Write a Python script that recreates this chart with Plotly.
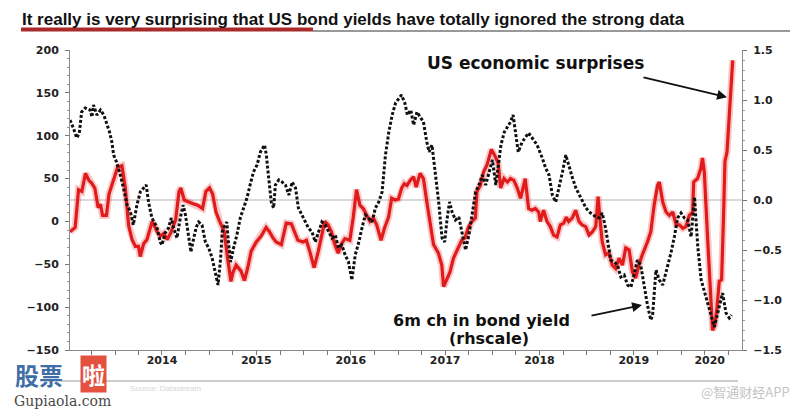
import plotly.graph_objects as go
import pandas as pd

# ---------------- data ----------------
title_text = "It really is very surprising that US bond yields have totally ignored the strong data"
surprise_label = "US economic surprises"
bond_label_1 = "6m ch in bond yield"
bond_label_2 = "(rhscale)"

year_labels = ["2014", "2015", "2016", "2017", "2018", "2019", "2020"]
year_label_dates = ["2014-07-01", "2015-07-01", "2016-07-01", "2017-07-01",
                    "2018-07-01", "2019-07-01", "2020-04-20"]

# US economic surprise index (left scale)
surprise_dates = [
    "2013-07-10", "2013-07-30", "2013-08-12", "2013-08-25", "2013-09-08", "2013-09-21",
    "2013-10-01", "2013-10-14", "2013-10-27", "2013-11-05", "2013-11-13", "2013-11-28",
    "2013-12-08", "2013-12-24", "2014-01-10", "2014-01-27", "2014-02-09", "2014-02-22",
    "2014-03-07", "2014-03-20", "2014-04-01", "2014-04-08", "2014-04-21", "2014-05-04",
    "2014-05-24", "2014-06-12", "2014-06-25", "2014-07-08", "2014-07-21", "2014-08-03",
    "2014-08-23", "2014-09-05", "2014-09-12", "2014-09-25", "2014-10-08", "2014-10-27",
    "2014-11-16", "2014-12-05", "2014-12-18", "2015-01-01", "2015-01-13", "2015-01-26",
    "2015-02-08", "2015-02-27", "2015-03-12", "2015-03-25", "2015-04-01", "2015-04-14",
    "2015-05-03", "2015-05-16", "2015-05-29", "2015-06-11", "2015-07-01", "2015-07-20",
    "2015-08-08", "2015-08-21", "2015-09-03", "2015-09-16", "2015-10-06", "2015-10-19",
    "2015-10-25", "2015-11-14", "2015-11-27", "2015-12-09", "2015-12-29", "2016-01-11",
    "2016-01-24", "2016-02-10", "2016-02-26", "2016-03-09", "2016-03-22", "2016-04-04",
    "2016-04-17", "2016-04-30", "2016-05-13", "2016-05-26", "2016-06-08", "2016-06-27",
    "2016-07-10", "2016-07-23", "2016-08-05", "2016-08-18", "2016-08-31", "2016-09-13",
    "2016-09-26", "2016-10-09", "2016-10-26", "2016-11-08", "2016-11-24", "2016-12-06",
    "2016-12-19", "2017-01-01", "2017-01-14", "2017-01-24", "2017-02-03", "2017-02-16",
    "2017-03-01", "2017-03-11", "2017-03-26", "2017-04-08", "2017-04-21", "2017-05-04",
    "2017-05-17", "2017-06-05", "2017-06-18", "2017-06-25", "2017-07-07", "2017-07-20",
    "2017-08-02", "2017-08-15", "2017-09-03", "2017-09-16", "2017-09-30", "2017-10-13",
    "2017-10-26", "2017-11-01", "2017-11-14", "2017-11-27", "2017-12-10", "2017-12-27",
    "2018-01-09", "2018-01-22", "2018-02-01", "2018-02-14", "2018-02-27", "2018-03-11",
    "2018-03-24", "2018-04-06", "2018-04-19", "2018-05-07", "2018-05-20", "2018-06-02",
    "2018-06-15", "2018-06-28", "2018-07-04", "2018-07-17", "2018-07-30", "2018-08-12",
    "2018-08-25", "2018-09-07", "2018-09-20", "2018-10-03", "2018-10-13", "2018-10-22",
    "2018-11-05", "2018-11-18", "2018-12-01", "2018-12-13", "2018-12-27", "2019-01-09",
    "2019-01-22", "2019-02-04", "2019-02-13", "2019-02-21", "2019-03-01", "2019-03-14",
    "2019-03-27", "2019-04-09", "2019-04-22", "2019-05-05", "2019-05-18", "2019-05-31",
    "2019-06-13", "2019-06-26", "2019-07-08", "2019-07-21", "2019-08-03", "2019-08-23",
    "2019-09-05", "2019-09-18", "2019-10-01", "2019-10-08", "2019-10-21", "2019-11-03",
    "2019-11-16", "2019-11-29", "2019-12-12", "2019-12-25", "2020-01-07", "2020-01-19",
    "2020-02-01", "2020-02-14", "2020-02-18", "2020-03-04", "2020-03-17", "2020-03-23",
    "2020-03-30", "2020-04-12", "2020-04-22", "2020-05-01", "2020-05-10", "2020-05-18",
    "2020-05-27", "2020-06-05", "2020-06-13", "2020-06-18", "2020-06-26", "2020-07-05",
    "2020-07-11", "2020-07-18",
]
surprise_values = [
    -12, -7, 37, 35, 56, 48,
    45, 39, 16, 20, 7, 7,
    32, 46, 63, 65, 39, -5,
    -21, -29, -29, -41, -26, -21,
    0, -12, -17, -14, -21, -14,
    2, 35, 39, 25, 23, 21,
    19, 15, 35, 39, 32, 11,
    1, -12, -43, -70, -60, -51,
    -58, -69, -54, -35, -24, -17,
    -7, -12, -19, -24, -27, -12,
    -2, -3, -12, -22, -24, -22,
    -35, -54, -35, -16, 0, -4,
    -12, -27, -37, -26, -20, -22,
    4, 37, 19, 15, 7, 0,
    4, -4, -22, -8, 5, 27,
    25, 26, 39, 44, 42, 48,
    52, 40, 56, 50, 23, 0,
    -27, -37, -51, -76, -68, -59,
    -43, -35, -22, -19, -6, 0,
    4, 35, 42, 58, 66, 84,
    77, 68, 39, 50, 46, 50,
    48, 39, 27, 50, 15, 13,
    15, 11, 0, 13, 0, -6,
    -16, -18, -4, -2, 5, 0,
    4, 13, 0, -4, -6, -16,
    -12, -6, 29, 0, -24, -39,
    -37, -51, -55, -43, -51, -31,
    -33, -59, -66, -51, -39, -24,
    -12, 19, 42, 46, 23, 11,
    7, 11, -4, -4, -8, -6,
    7, 11, 46, 50, 62, 74,
    58, -20, -86, -127, -121, -101,
    -70, -68, 11, 70, 81, 128,
    167, 188,
]

# 6m change in US bond yield (right scale)
bond_dates = [
    "2013-07-10", "2013-07-23", "2013-08-05", "2013-08-15", "2013-08-24", "2013-09-07",
    "2013-09-26", "2013-10-03", "2013-10-09", "2013-10-22", "2013-11-05", "2013-11-18",
    "2013-12-01", "2013-12-10", "2013-12-19", "2013-12-26", "2014-01-06", "2014-01-19",
    "2014-02-02", "2014-02-16", "2014-03-01", "2014-03-12", "2014-03-26", "2014-04-08",
    "2014-04-21", "2014-05-01", "2014-05-10", "2014-05-23", "2014-06-11", "2014-06-24",
    "2014-07-01", "2014-07-13", "2014-07-26", "2014-08-06", "2014-08-15", "2014-08-28",
    "2014-09-10", "2014-09-21", "2014-09-30", "2014-10-12", "2014-10-21", "2014-11-01",
    "2014-11-11", "2014-11-20", "2014-12-03", "2014-12-16", "2014-12-29", "2015-01-11",
    "2015-01-24", "2015-02-03", "2015-02-13", "2015-02-19", "2015-02-26", "2015-03-09",
    "2015-03-15", "2015-03-24", "2015-04-04", "2015-04-17", "2015-04-30", "2015-05-13",
    "2015-05-26", "2015-06-07", "2015-06-20", "2015-07-04", "2015-07-17", "2015-08-02",
    "2015-08-09", "2015-08-18", "2015-08-28", "2015-09-06", "2015-09-13", "2015-09-26",
    "2015-10-09", "2015-10-22", "2015-11-04", "2015-11-17", "2015-11-30", "2015-12-11",
    "2015-12-24", "2016-01-06", "2016-01-19", "2016-02-02", "2016-02-14", "2016-02-27",
    "2016-03-11", "2016-03-24", "2016-04-06", "2016-04-19", "2016-05-02", "2016-05-14",
    "2016-05-27", "2016-06-09", "2016-06-22", "2016-07-05", "2016-07-18", "2016-08-01",
    "2016-08-13", "2016-08-26", "2016-09-08", "2016-09-21", "2016-10-04", "2016-10-17",
    "2016-10-30", "2016-11-12", "2016-11-25", "2016-12-08", "2016-12-21", "2017-01-03",
    "2017-01-13", "2017-01-26", "2017-02-05", "2017-02-18", "2017-03-01", "2017-03-14",
    "2017-03-27", "2017-04-08", "2017-04-21", "2017-04-30", "2017-05-11", "2017-05-24",
    "2017-06-06", "2017-06-19", "2017-06-29", "2017-07-09", "2017-07-18", "2017-07-28",
    "2017-08-10", "2017-08-23", "2017-09-05", "2017-09-18", "2017-10-01", "2017-10-14",
    "2017-10-27", "2017-11-09", "2017-11-22", "2017-12-05", "2017-12-18", "2017-12-31",
    "2018-01-13", "2018-01-24", "2018-02-02", "2018-02-15", "2018-02-28", "2018-03-11",
    "2018-03-21", "2018-03-31", "2018-04-10", "2018-04-25", "2018-05-07", "2018-05-20",
    "2018-06-03", "2018-06-22", "2018-07-12", "2018-07-25", "2018-08-07", "2018-08-20",
    "2018-09-02", "2018-09-15", "2018-09-28", "2018-10-11", "2018-10-24", "2018-11-06",
    "2018-11-19", "2018-12-02", "2018-12-15", "2018-12-28", "2019-01-10", "2019-01-23",
    "2019-02-05", "2019-02-18", "2019-03-01", "2019-03-14", "2019-04-03", "2019-04-16",
    "2019-04-29", "2019-05-12", "2019-05-25", "2019-06-07", "2019-06-20", "2019-07-02",
    "2019-07-15", "2019-07-28", "2019-08-10", "2019-08-23", "2019-09-05", "2019-09-12",
    "2019-09-25", "2019-10-08", "2019-10-21", "2019-11-03", "2019-11-22", "2019-12-05",
    "2019-12-18", "2019-12-31", "2020-01-13", "2020-01-26", "2020-02-08", "2020-02-21",
    "2020-03-05", "2020-03-18", "2020-04-06", "2020-04-25", "2020-05-08", "2020-05-21",
    "2020-06-09", "2020-06-22", "2020-07-05", "2020-07-14",
]
bond_values = [
    0.80, 0.72, 0.62, 0.67, 0.88, 0.92,
    0.90, 0.83, 0.95, 0.85, 0.90, 0.85,
    0.75, 0.68, 0.58, 0.45, 0.38, 0.27,
    0.12, -0.05, -0.12, -0.25, -0.05, 0.08,
    0.12, 0.15, -0.02, -0.18, -0.27, -0.42,
    -0.45, -0.33, -0.28, -0.18, -0.28, -0.38,
    -0.18, -0.05, -0.15, -0.38, -0.52, -0.38,
    -0.27, -0.22, -0.25, -0.42, -0.48, -0.58,
    -0.75, -0.85, -0.58, -0.32, -0.27, -0.22,
    -0.42, -0.62, -0.48, -0.35, -0.18, -0.08,
    0.02, 0.15, 0.28, 0.35, 0.48, 0.55,
    0.45, 0.22, -0.02, -0.08, 0.15, 0.20,
    0.18, 0.15, 0.05, 0.18, 0.12, -0.08,
    -0.15, -0.22, -0.28, -0.32, -0.42, -0.32,
    -0.22, -0.25, -0.32, -0.38, -0.35, -0.48,
    -0.45, -0.55, -0.62, -0.80, -0.55, -0.42,
    -0.28, -0.15, -0.18, -0.22, -0.08, -0.02,
    0.08, 0.45, 0.68, 0.85, 0.97, 1.02,
    1.05, 0.97, 0.85, 0.90, 0.75, 0.88,
    0.83, 0.78, 0.58, 0.48, 0.55, 0.28,
    -0.02, -0.38, -0.42, -0.18, -0.02, -0.12,
    -0.20, -0.17, -0.32, -0.50, -0.35, -0.12,
    0.08, 0.15, 0.25, 0.15, 0.28, 0.40,
    0.15, 0.38, 0.55, 0.68, 0.73, 0.78,
    0.85, 0.68, 0.48, 0.58, 0.62, 0.67,
    0.62, 0.55, 0.42, 0.32, 0.25, 0.05,
    -0.02, 0.12, 0.28, 0.45, 0.32, 0.22,
    0.12, 0.05, -0.02, -0.08, -0.12, -0.15,
    -0.17, -0.18, -0.13, -0.28, -0.60, -0.62,
    -0.65, -0.77, -0.75, -0.85, -0.87, -0.75,
    -0.60, -0.65, -0.87, -1.05, -1.20, -1.15,
    -0.70, -0.80, -0.85, -0.73, -0.53, -0.37,
    -0.18, -0.13, -0.18, -0.20, -0.37, 0.03,
    -0.47, -0.80, -0.97, -1.13, -1.27, -1.13,
    -0.93, -1.13, -1.18, -1.15,
]

x_start, x_end = "2013-07-10", "2020-08-23"

# ---------------- layout helpers ----------------
# The page body adds an 8px offset, so the figure is drawn 8px smaller/shifted.
OFF = 8
W, H = 800 - OFF, 409 - OFF
L, T = 70 - OFF, 50 - OFF
PW, PH = 672, 300
R, B = W - L - PW, H - T - PH


def px(xp):  # reference-image pixel x -> paper
    return (xp - 70) / PW


def py(yp):  # reference-image pixel y -> paper
    return (350 - yp) / PH


tick_font = dict(family="DejaVu Sans", size=11, color="#222222", weight="bold")
quarter_ticks = [d.strftime("%Y-%m-%d") for d in pd.date_range("2013-10-01", "2020-07-01", freq="QS")]

fig = go.Figure()
fig.add_trace(go.Scatter(x=surprise_dates, y=surprise_values, mode="lines",
                         line=dict(color="rgba(235,70,70,0.30)", width=7),
                         hoverinfo="skip", showlegend=False))
fig.add_trace(go.Scatter(x=surprise_dates, y=surprise_values, mode="lines",
                         line=dict(color="#e11b1b", width=3.2), showlegend=False,
                         name=surprise_label))
fig.add_trace(go.Scatter(x=bond_dates, y=bond_values, mode="lines", yaxis="y2",
                         line=dict(color="#111111", width=3, dash="3px,2px"),
                         showlegend=False, name=bond_label_1))

fig.update_layout(
    width=W, height=H,
    margin=dict(l=L, r=R, t=T, b=B),
    paper_bgcolor="white", plot_bgcolor="white",
    title=dict(text=title_text, x=(22 - OFF) / W, xanchor="left", y=1 - (19 - OFF) / H,
               yanchor="middle",
               font=dict(family="Liberation Sans Narrow, Liberation Sans, Arial", size=17,
                         color="#111111", weight="bold")),
    xaxis=dict(type="date", range=[x_start, x_end], showgrid=False, zeroline=False,
               showline=True, linecolor="#8a8a8a", linewidth=1,
               tickmode="array", tickvals=year_label_dates, ticktext=year_labels,
               ticks="", tickfont=tick_font,
               minor=dict(tickmode="array", tickvals=quarter_ticks, ticks="outside",
                          ticklen=4, tickcolor="#777777", showgrid=False)),
    yaxis=dict(range=[-150, 200], tick0=0, dtick=50, showgrid=False, zeroline=False,
               showline=True, linecolor="#8a8a8a", linewidth=1,
               ticks="outside", ticklen=4, tickcolor="#777777", tickfont=tick_font,
               ticklabelstandoff=4,
               minor=dict(dtick=10, ticks="outside", ticklen=2, tickcolor="#999999",
                          showgrid=False)),
    yaxis2=dict(range=[-1.5, 1.5], tick0=0, dtick=0.5, tickformat=".1f", overlaying="y",
                side="right", showgrid=False, zeroline=False,
                showline=True, linecolor="#8a8a8a", linewidth=1,
                ticks="outside", ticklen=4, tickcolor="#777777", tickfont=tick_font,
                ticklabelstandoff=4,
                minor=dict(dtick=0.1, ticks="outside", ticklen=2, tickcolor="#999999",
                           showgrid=False)),
    shapes=[
        dict(type="line", xref="paper", yref="y2", x0=0, x1=1, y0=0, y1=0,
             line=dict(color="#b5b5b5", width=1), layer="below"),
        dict(type="line", xref="paper", yref="paper", x0=px(21), x1=px(313), y0=py(29.5), y1=py(29.5),
             line=dict(color="#a82a2a", width=4)),
        dict(type="line", xref="paper", yref="paper", x0=px(313), x1=px(790), y0=py(31), y1=py(31),
             line=dict(color="#333333", width=1)),
        dict(type="line", xref="paper", yref="paper", x0=px(62), x1=px(738), y0=py(381), y1=py(381),
             line=dict(color="#9a9a9a", width=1)),
    ],
)

ann_font = dict(family="DejaVu Sans", size=17, color="#111111", weight="bold")


def label(xp, yp, text, font, **kw):
    fig.add_annotation(x=px(xp), y=py(yp), xref="paper", yref="paper", text=text,
                       showarrow=False, font=font, xanchor="center", yanchor="middle", **kw)


label(535, 63, surprise_label, ann_font)
label(481, 320, bond_label_1, dict(ann_font, size=16))
label(489, 338, bond_label_2, dict(ann_font, size=16))

# arrows
fig.add_annotation(x="2020-06-26", y=145, xref="x", yref="y", text="", showarrow=True,
                   ax=-85, ay=-20, arrowhead=2, arrowsize=1.1, arrowwidth=1.8, arrowcolor="#111111")
fig.add_annotation(x="2019-08-02", y=-1.05, xref="x", yref="y2", text="", showarrow=True,
                   ax=-52, ay=11, arrowhead=2, arrowsize=1.1, arrowwidth=1.8, arrowcolor="#111111")

# watermark / source texts
label(165, 388, "Source: Datastream", dict(family="Liberation Sans", size=8, color="#d6d6d6"))
label(39, 374.5, "股票", dict(family="Noto Sans CJK SC", size=24, color="#3f6fa6", weight="bold"))
label(93, 374.5, "啦", dict(family="Noto Sans CJK SC", size=23, color="white", weight="bold"),
      bgcolor="#e4513f", borderpad=1)
label(62, 400.5, "Gupiaola.com", dict(family="DejaVu Serif", size=14, color="#4a4a4a"))
label(745, 391, "@智通财经APP", dict(family="Noto Sans CJK SC", size=13, color="#c4c4c4"))

fig.write_html("out.html")
